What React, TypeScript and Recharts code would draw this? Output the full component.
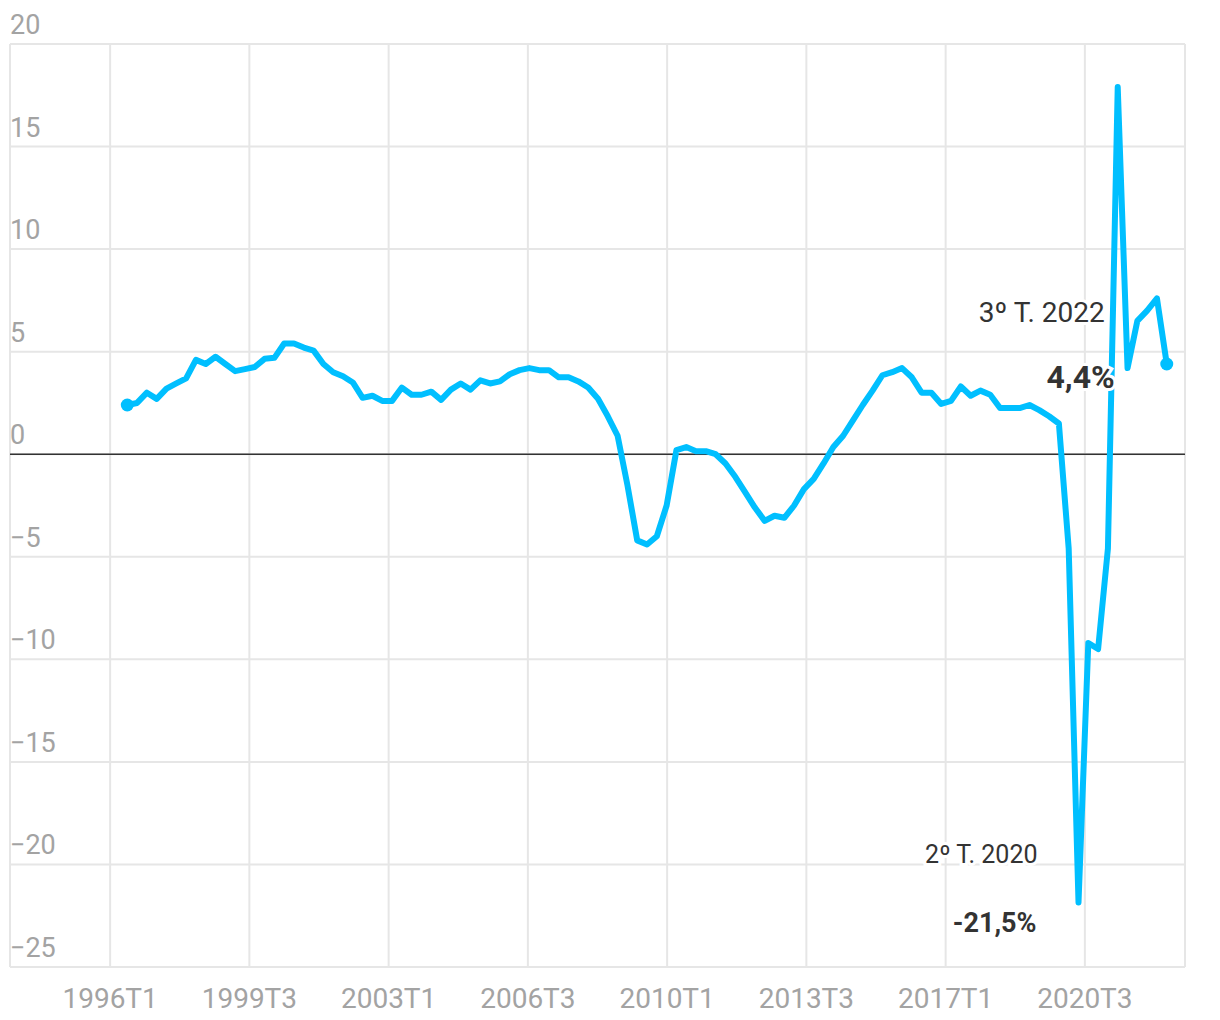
import { CartesianGrid, LabelList, Line, LineChart, ReferenceLine, XAxis, YAxis } from "recharts";

// quarters 1996T1 .. 2022T3
const quarters: string[] = [];
for (let y = 1996; y <= 2022; y++) {
  for (let q = 1; q <= 4; q++) {
    if (y === 2022 && q > 3) break;
    quarters.push(`${y}T${q}`);
  }
}

// interannual GDP growth, %
const growth = [
  2.4, 2.5, 3.0, 2.7, 3.2, 3.45, 3.7, 4.6, 4.4, 4.75,
  4.4, 4.05, 4.15, 4.25, 4.65, 4.7, 5.4, 5.4, 5.2, 5.05,
  4.4, 4.0, 3.8, 3.5, 2.75, 2.85, 2.6, 2.6, 3.25, 2.9,
  2.9, 3.05, 2.65, 3.15, 3.45, 3.15, 3.6, 3.45, 3.55, 3.9,
  4.1, 4.2, 4.1, 4.1, 3.75, 3.75, 3.55, 3.25, 2.7, 1.85,
  0.9, -1.5, -4.2, -4.4, -4.0, -2.5, 0.2, 0.35, 0.15, 0.15,
  0.0, -0.45, -1.1, -1.85, -2.6, -3.25, -3.0, -3.1, -2.5, -1.7,
  -1.2, -0.45, 0.35, 0.9, 1.65, 2.4, 3.1, 3.85, 4.0, 4.2,
  3.75, 3.0, 3.0, 2.45, 2.6, 3.3, 2.85, 3.1, 2.9, 2.25,
  2.25, 2.25, 2.4, 2.15, 1.85, 1.5, -4.6, -21.85, -9.2, -9.5,
  -4.6, 17.9, 4.2, 6.5, 7.0, 7.6, 4.4,
];

// x tick labels and where they sit, in data-point units
const xTickLabels = ["1996T1", "1999T3", "2003T1", "2006T3", "2010T1", "2013T3", "2017T1", "2020T3"];
const xTickPos = [-1.75, 12.45, 26.65, 40.85, 55.05, 69.25, 83.45, 97.65];

const yTicks = [-25, -20, -15, -10, -5, 0, 5, 10, 15, 20];

const notes = [
  { quarter: "2022T3", title: "3º T. 2022", label: "4,4%" },
  { quarter: "2020T2", title: "2º T. 2020", label: "-21,5%" },
];

const data = quarters.map((q, i) => ({ i, q, v: growth[i] }));

const W = 1204;
const H = 1012;
const MARGIN = { top: 36, right: 27, bottom: 0, left: 2 };
const X_AXIS_H = 53;
const PLOT_BOTTOM = H - MARGIN.bottom - X_AXIS_H;
const FONT = "Roboto, 'Liberation Sans', sans-serif";
const BLUE = "#00bfff";

const NOTE_STYLE: Record<string, { tx: number; ty: number; lx: number; ly: number; ts: number; ls: number }> = {
  "2022T3": { tx: -62, ty: -42, lx: -52, ly: 24, ts: 28, ls: 32 },
  "2020T2": { tx: -41, ty: -39, lx: -42, ly: 30, ts: 25, ls: 27 },
};

const YTick = (props: any) => {
  const { y, payload } = props;
  const v = payload.value as number;
  return (
    <text x={MARGIN.left} y={y - 10} fill="#a3a3a3" fontSize={27} fontFamily={FONT} textAnchor="start">
      {v < 0 ? `\u2212${-v}` : v}
    </text>
  );
};

const XTick = (props: any) => {
  const { x, payload } = props;
  const k = xTickPos.indexOf(payload.value);
  return (
    <text x={x} y={PLOT_BOTTOM + 41} fill="#a3a3a3" fontSize={28} fontFamily={FONT} textAnchor="middle">
      {xTickLabels[k] ?? ""}
    </text>
  );
};

const renderNote = (props: any) => {
  const { x, y, index } = props;
  const note = notes.find((n) => n.quarter === quarters[index]);
  if (!note) return null;
  const o = NOTE_STYLE[note.quarter];
  return (
    <g key={`note-${index}`}>
      <text
        x={x + o.tx}
        y={y + o.ty}
        textAnchor="end"
        fontSize={o.ts}
        fontFamily={FONT}
        fill="#333"
        stroke="#fff"
        strokeWidth={6}
        paintOrder="stroke"
      >
        {note.title}
      </text>
      <text
        x={x + o.lx}
        y={y + o.ly}
        textAnchor="end"
        fontSize={o.ls}
        fontWeight={700}
        fontFamily={FONT}
        fill="#333"
        stroke="#fff"
        strokeWidth={6}
        paintOrder="stroke"
      >
        {note.label}
      </text>
    </g>
  );
};

const renderDot = (props: any) => {
  const { cx, cy, index } = props;
  if (index === 0 || index === growth.length - 1) {
    return <circle key={`dot-${index}`} cx={cx} cy={cy} r={6.5} fill={BLUE} />;
  }
  return <g key={`dot-${index}`} />;
};

export default function App() {
  return (
    <LineChart width={W} height={H} data={data} margin={MARGIN}>
      <CartesianGrid stroke="#e6e6e6" strokeWidth={2} />
      <XAxis
        dataKey="i"
        type="number"
        domain={[-11.96, 107.86]}
        allowDataOverflow
        ticks={xTickPos}
        interval={0}
        axisLine={false}
        tickLine={false}
        height={X_AXIS_H}
        tick={<XTick />}
      />
      <YAxis
        type="number"
        domain={[-25, 20]}
        ticks={yTicks}
        interval={0}
        mirror
        width={60}
        axisLine={false}
        tickLine={false}
        tick={<YTick />}
      />
      <ReferenceLine y={0} stroke="#333" strokeWidth={1.5} />
      <Line
        dataKey="v"
        type="linear"
        stroke={BLUE}
        strokeWidth={6}
        strokeLinejoin="round"
        strokeLinecap="round"
        dot={renderDot}
        activeDot={false}
        isAnimationActive={false}
      >
        <LabelList dataKey="v" content={renderNote} />
      </Line>
    </LineChart>
  );
}
